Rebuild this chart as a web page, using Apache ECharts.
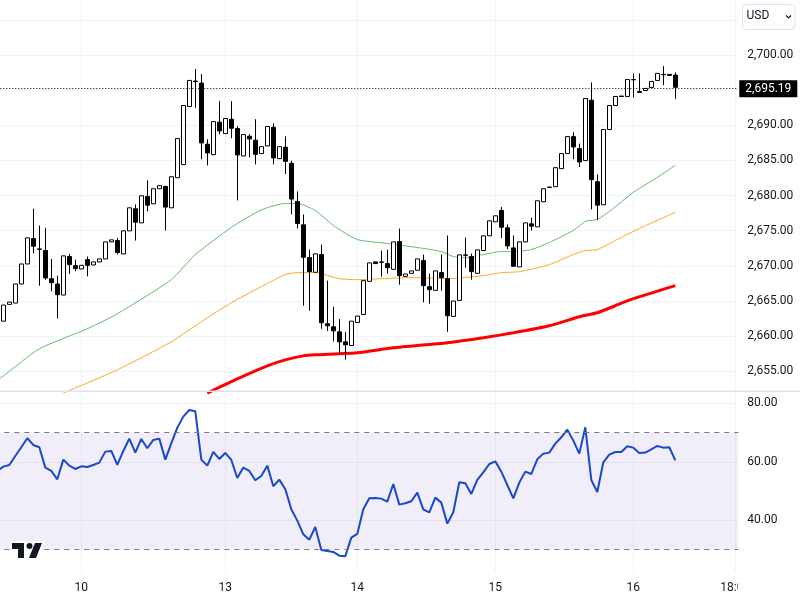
<!DOCTYPE html>
<html>
<head>
<meta charset="utf-8">
<script src="https://cdn.jsdelivr.net/npm/echarts@6/dist/echarts.min.js"></script>
<style>
    html, body { margin: 0; padding: 0; background: #fff; }
    #main { width: 800px; height: 600px; }
</style>
</head>
<body>
<div id="main"></div>
<script>
// bar index of each date label, counted from the first full candle
var tickIndex = [13, 37, 59, 82, 105, 122];
var tickLabels = ['10', '13', '14', '15', '16', '18:00'];
var barCount = 123;

var opens = [2661.93, 2664.31, 2664.50, 2667.21, 2670.06,
    2673.68, 2672.20, 2671.97, 2667.97, 2667.21,
    2665.64, 2671.11, 2669.83, 2669.35, 2670.68,
    2669.92, 2670.35, 2670.78, 2673.20, 2673.39,
    2671.49, 2674.77, 2677.91, 2675.91, 2679.67,
    2678.62, 2680.76, 2681.10, 2678.05, 2682.33,
    2684.19, 2692.46, 2696.07, 2695.79, 2687.09,
    2685.61, 2690.23, 2688.61, 2690.65, 2689.32,
    2685.42, 2688.23, 2687.66, 2685.76, 2686.85,
    2689.51, 2685.04, 2686.66, 2684.38, 2678.96,
    2675.63, 2670.97, 2668.88, 2671.40, 2661.55,
    2661.12, 2660.41, 2658.98, 2658.46, 2661.74,
    2662.88, 2667.59, 2670.35, 2670.35, 2670.11,
    2669.30, 2673.25, 2668.30, 2668.73, 2669.16,
    2670.54, 2666.83, 2666.31, 2668.83, 2667.97,
    2662.60, 2664.88, 2671.35, 2671.11, 2668.73,
    2671.97, 2674.06, 2676.06, 2677.67, 2675.20,
    2672.35, 2669.64, 2673.20, 2675.77, 2675.34,
    2678.91, 2681.00, 2681.05, 2683.62, 2685.76,
    2688.18, 2686.47, 2684.76, 2693.36, 2681.76,
    2678.48, 2689.18, 2692.60, 2693.94, 2693.89,
    2696.30, 2694.60, 2694.74, 2695.17, 2696.17,
    2697.03, 2697.03, 2696.93];

var closes = [2664.22, 2664.64, 2667.21, 2670.06, 2673.77,
    2672.58, 2672.15, 2668.07, 2667.40, 2665.69,
    2671.21, 2669.97, 2669.40, 2669.87, 2669.87,
    2670.35, 2670.78, 2673.20, 2673.49, 2671.68,
    2674.77, 2678.05, 2676.01, 2679.76, 2678.43,
    2680.76, 2681.19, 2678.15, 2682.47, 2687.90,
    2692.60, 2696.17, 2696.02, 2687.28, 2685.85,
    2690.32, 2688.99, 2690.75, 2689.37, 2685.57,
    2688.47, 2687.85, 2685.66, 2686.75, 2689.61,
    2685.14, 2686.75, 2684.66, 2679.29, 2675.82,
    2671.01, 2668.97, 2671.49, 2661.70, 2661.27,
    2660.55, 2658.98, 2658.56, 2661.93, 2662.65,
    2667.69, 2670.21, 2670.11, 2670.30, 2669.54,
    2673.20, 2668.40, 2668.64, 2669.07, 2670.78,
    2666.97, 2666.40, 2669.07, 2668.11, 2662.69,
    2664.79, 2671.35, 2671.30, 2668.97, 2672.06,
    2674.06, 2676.20, 2676.91, 2675.29, 2672.63,
    2669.73, 2673.20, 2675.91, 2675.44, 2679.05,
    2680.76, 2680.95, 2683.76, 2685.76, 2688.18,
    2686.71, 2684.57, 2693.60, 2682.05, 2678.43,
    2689.18, 2692.60, 2693.89, 2693.89, 2696.31,
    2696.25, 2694.46, 2695.03, 2696.03, 2697.17,
    2696.98, 2696.88, 2695.19];

var lows = [2661.93, 2664.31, 2664.50, 2667.21, 2670.06,
    2671.59, 2666.97, 2667.83, 2666.17, 2662.31,
    2665.64, 2668.64, 2669.02, 2669.35, 2668.31,
    2669.92, 2670.35, 2670.78, 2673.20, 2671.44,
    2671.49, 2674.77, 2673.39, 2675.91, 2677.53,
    2678.62, 2680.76, 2674.82, 2678.05, 2682.33,
    2684.19, 2692.46, 2692.27, 2684.95, 2684.09,
    2685.61, 2688.51, 2688.61, 2687.94, 2679.10,
    2685.42, 2685.23, 2684.23, 2685.76, 2686.85,
    2684.23, 2685.04, 2682.85, 2677.10, 2675.10,
    2664.12, 2663.41, 2668.88, 2660.84, 2660.55,
    2659.03, 2657.23, 2656.46, 2658.46, 2661.74,
    2662.88, 2667.59, 2670.11, 2668.26, 2668.69,
    2669.30, 2667.12, 2668.30, 2668.73, 2669.16,
    2664.60, 2664.41, 2666.31, 2666.26, 2660.41,
    2662.60, 2664.88, 2669.54, 2667.83, 2668.73,
    2671.97, 2674.06, 2676.06, 2673.73, 2672.16,
    2669.73, 2669.64, 2673.20, 2674.82, 2675.34,
    2678.91, 2680.95, 2681.05, 2683.62, 2685.76,
    2684.95, 2683.85, 2684.76, 2677.82, 2676.34,
    2678.48, 2689.18, 2692.60, 2693.89, 2693.89,
    2693.74, 2694.46, 2694.74, 2695.17, 2696.17,
    2695.50, 2696.88, 2693.55];

var highs = [2664.22, 2664.64, 2667.21, 2670.06, 2673.77,
    2677.91, 2675.53, 2675.20, 2670.78, 2668.40,
    2671.21, 2671.49, 2670.68, 2669.87, 2671.11,
    2670.35, 2670.78, 2673.20, 2673.49, 2673.77,
    2674.77, 2678.05, 2678.53, 2679.76, 2681.95,
    2680.76, 2681.19, 2681.10, 2682.47, 2687.90,
    2692.60, 2696.17, 2697.79, 2697.07, 2687.80,
    2690.32, 2693.22, 2690.75, 2693.22, 2689.66,
    2688.47, 2688.51, 2690.65, 2686.75, 2689.61,
    2690.08, 2686.75, 2688.23, 2684.76, 2680.38,
    2677.10, 2672.11, 2671.49, 2672.82, 2667.69,
    2663.98, 2662.22, 2660.41, 2661.93, 2662.65,
    2667.69, 2670.21, 2670.35, 2671.97, 2672.11,
    2673.20, 2675.10, 2668.64, 2669.07, 2670.78,
    2671.40, 2668.69, 2669.07, 2671.40, 2674.11,
    2664.79, 2671.35, 2673.82, 2671.54, 2672.06,
    2674.06, 2676.20, 2676.91, 2678.15, 2675.68,
    2674.11, 2673.20, 2675.91, 2676.63, 2679.05,
    2680.76, 2681.00, 2683.76, 2685.76, 2688.18,
    2688.80, 2687.18, 2693.60, 2695.88, 2682.81,
    2689.18, 2692.60, 2693.89, 2693.94, 2696.31,
    2697.17, 2697.17, 2695.03, 2696.03, 2697.17,
    2698.21, 2697.03, 2697.31];

// moving averages, read at the bends: [bar index, price]
var maGreen = [[-1, 2653.60], [0, 2654.14], [6, 2657.99], [14, 2660.84], [19, 2662.98], [28, 2667.83], [32, 2671.40],
    [38, 2675.25], [43, 2677.75], [47, 2678.67], [49, 2678.67], [52, 2677.67], [55, 2675.54],
    [59, 2673.54], [64, 2672.97], [69, 2672.40], [73, 2671.83], [75, 2671.11], [77, 2670.97],
    [80, 2671.40], [83, 2671.83], [85, 2671.83], [88, 2672.11], [91, 2673.11], [95, 2674.82],
    [97, 2676.11], [99, 2676.39], [101, 2677.53], [105, 2680.24], [109, 2682.38], [112, 2684.09]];
var maOrange = [[10, 2651.70], [19, 2655.00], [28, 2658.99], [33, 2661.84], [38, 2664.55], [43, 2666.83],
    [47, 2668.55], [49, 2668.83], [52, 2668.83], [56, 2667.97], [59, 2667.83], [63, 2667.97],
    [68, 2668.12], [74, 2667.97], [80, 2668.40], [83, 2668.83], [86, 2668.97], [91, 2669.97],
    [95, 2671.40], [97, 2671.97], [99, 2672.11], [102, 2673.40], [106, 2675.11], [112, 2677.39]];
var maRed = [[34, 2651.70], [39, 2653.71], [44, 2655.56], [47, 2656.42], [50, 2656.99], [52, 2657.13],
    [59, 2657.42], [65, 2658.13], [74, 2658.85], [80, 2659.56], [85, 2660.27], [91, 2661.27],
    [96, 2662.55], [99, 2663.12], [102, 2664.12], [105, 2665.12], [112, 2666.98]];

// first value belongs to the bar cut off by the left edge
var rsiValues = [56.90, 58.35, 58.92, 62.00, 64.96, 68.04, 65.76, 64.96, 58.01, 56.87, 54.02,
    60.74, 58.69, 57.55, 58.46, 58.24, 58.92, 59.72, 63.48, 63.71, 58.92,
    63.71, 67.92, 63.14, 67.81, 64.62, 67.47, 67.92, 60.74, 66.33, 71.68,
    75.44, 77.72, 77.27, 60.74, 58.69, 63.36, 60.97, 63.02, 60.63, 54.47,
    58.01, 56.87, 53.68, 55.16, 58.69, 51.63, 53.90, 50.60, 43.76, 39.89,
    35.22, 33.39, 37.72, 29.86, 29.52, 29.17, 27.92, 27.69, 34.08, 35.33,
    43.76, 47.52, 47.64, 47.41, 46.38, 52.42, 45.36, 45.81, 46.50, 49.46,
    43.76, 42.74, 47.75, 46.04, 38.86, 42.74, 52.99, 52.65, 49.00, 53.79,
    56.41, 59.26, 60.17, 56.64, 52.08, 47.52, 52.88, 56.64, 55.84, 60.86,
    62.79, 63.14, 66.21, 68.38, 71.00, 67.24, 62.79, 71.80, 53.79, 49.69,
    59.83, 62.45, 63.36, 63.36, 65.30, 64.84, 63.02, 63.14, 64.28, 65.41,
    64.84, 64.96, 60.51];

var lastPrice = 2695.19;
var shownPrices = [2655, 2660, 2665, 2670, 2675, 2680, 2685, 2690, 2700];
// readings above were taken against the label centres, gridlines sit a little lower
var readOffset = 0.2;

var fontName = 'Roboto';
var textColor = '#131722';
var gridColor = '#f0f3fa';

// one extra bar in front, so the lines run off the left edge
var categories = [''];
for (var i = 0; i < barCount; i++) {
    var k = tickIndex.indexOf(i);
    categories.push(k >= 0 ? tickLabels[k] : String(i));
}

var candles = ['-'];
for (var j = 0; j < opens.length; j++) {
    candles.push([opens[j] + readOffset, closes[j] + readOffset, lows[j] + readOffset, highs[j] + readOffset]);
}

function maPoints(list) {
    return list.map(function (p) {
        return [p[0] + 1, p[1] + readOffset];
    });
}

function isTick(index) {
    return tickIndex.indexOf(index - 1) >= 0;
}

function priceText(v) {
    var parts = v.toFixed(2).split('.');
    return parts[0].replace(/\B(?=(\d{3})+$)/, ',') + '.' + parts[1];
}

var myChart = echarts.init(document.getElementById('main'));

var option = {
    animation: false,
    backgroundColor: '#fff',
    grid: [
        { left: -5.7, width: 744, top: 0, height: 406.4, outerBoundsMode: 'none' },
        { left: -5.7, width: 744, top: 403.3, height: 175.5, outerBoundsMode: 'none' }
    ],
    xAxis: [
        {
            type: 'category', gridIndex: 0, data: categories,
            axisLine: { show: false }, axisTick: { show: false }, axisLabel: { show: false },
            splitLine: { show: true, interval: isTick, alignWithLabel: true, lineStyle: { color: gridColor, width: 1 } }
        },
        {
            type: 'category', gridIndex: 1, data: categories,
            axisLine: { show: false }, axisTick: { show: false },
            axisLabel: { interval: isTick, margin: 3, color: textColor, fontFamily: fontName, fontSize: 12 },
            splitLine: { show: true, interval: isTick, alignWithLabel: true, lineStyle: { color: gridColor, width: 1 } }
        }
    ],
    yAxis: [
        {
            type: 'value', gridIndex: 0, position: 'right', min: 2650, max: 2707.81, interval: 5,
            axisLine: { show: false }, axisTick: { show: false },
            axisLabel: {
                margin: 9, color: textColor, fontFamily: fontName, fontSize: 12, padding: [0, 0, 3, 0],
                formatter: function (v) { return shownPrices.indexOf(v) >= 0 ? priceText(v) : ''; }
            },
            splitLine: { show: true, showMinLine: false, showMaxLine: false, lineStyle: { color: gridColor, width: 1 } }
        },
        {
            type: 'value', gridIndex: 1, position: 'right', min: 20, max: 80, interval: 20,
            axisLine: { show: false }, axisTick: { show: false },
            axisLabel: {
                margin: 9, color: textColor, fontFamily: fontName, fontSize: 12, padding: [2, 0, 0, 0],
                formatter: function (v) { return v == 20 ? '' : v.toFixed(2); }
            },
            splitLine: { show: true, showMinLine: false, lineStyle: { color: gridColor, width: 1 } }
        }
    ],
    series: [
        {
            name: 'MA green', type: 'line', xAxisIndex: 0, yAxisIndex: 0, data: maPoints(maGreen), z: 2,
            showSymbol: false, smooth: 0.2, lineStyle: { color: '#66bb6a', width: 1 }
        },
        {
            name: 'MA orange', type: 'line', xAxisIndex: 0, yAxisIndex: 0, data: maPoints(maOrange), z: 2,
            showSymbol: false, smooth: 0.2, lineStyle: { color: '#ffa726', width: 1 }
        },
        {
            name: 'MA red', type: 'line', xAxisIndex: 0, yAxisIndex: 0, data: maPoints(maRed), z: 2,
            showSymbol: false, smooth: 0.2, lineStyle: { color: '#ff0000', width: 3 }
        },
        {
            name: 'Price', type: 'candlestick', xAxisIndex: 0, yAxisIndex: 0, data: candles, z: 3,
            barWidth: 5,
            itemStyle: { color: '#fff', color0: '#000', borderColor: '#000', borderColor0: '#000', borderWidth: 1 },
            markLine: {
                silent: true, symbol: 'none', animation: false,
                data: [{ yAxis: lastPrice }],
                lineStyle: { color: '#000', width: 1, type: [1, 2] },
                label: {
                    position: 'end', distance: 1, formatter: priceText(lastPrice),
                    color: '#fff', backgroundColor: '#000', padding: [3, 6, 2, 6],
                    fontFamily: fontName, fontSize: 12
                }
            }
        },
        {
            name: 'RSI', type: 'line', xAxisIndex: 1, yAxisIndex: 1, data: rsiValues, z: 3,
            showSymbol: false, lineStyle: { color: '#1848cc', width: 2 },
            markArea: {
                silent: true, itemStyle: { color: 'rgba(126,87,194,0.1)' },
                data: [[{ yAxis: 70 }, { yAxis: 30 }]]
            },
            markLine: {
                silent: true, symbol: 'none', animation: false,
                data: [{ yAxis: 70 }, { yAxis: 30 }],
                label: { show: false },
                lineStyle: { color: '#787b86', width: 1, type: [5, 5] }
            }
        }
    ],
    graphic: [
        // pane separator, bottom mask under the RSI pane, USD button and logo
        { type: 'rect', z: 50, shape: { x: 0, y: 390.5, width: 800, height: 1.5 }, style: { fill: '#e0e3eb' } },
        { type: 'rect', z: 50, shape: { x: 0, y: 572, width: 739, height: 7 }, style: { fill: '#fff' } },
        { type: 'rect', z: 50, shape: { x: 738, y: 572, width: 62, height: 28 }, style: { fill: '#fff' } },
        {
            type: 'rect', z: 50, shape: { x: 742.5, y: 4.5, width: 52.5, height: 25, r: 4 },
            style: { fill: '#fff', stroke: '#e0e3eb', lineWidth: 1 }
        },
        {
            type: 'text', z: 51, x: 746.5, y: 10,
            style: { text: 'USD', fill: textColor, fontFamily: fontName, fontSize: 12 }
        },
        {
            type: 'polyline', z: 51, shape: { points: [[786, 15.5], [788.5, 18], [791, 15.5]] },
            style: { fill: 'none', stroke: textColor, lineWidth: 1.2 }
        },
        {
            type: 'polygon', z: 52, x: 10, y: 541,
            shape: { points: [[0, 0], [16, 0], [16, 1], [23, 1], [24, 0], [35, 0], [27.5, 19], [6, 19], [6, 10], [0, 10]] },
            style: { fill: '#fff' }
        },
        {
            type: 'polygon', z: 53, x: 10, y: 541,
            shape: { points: [[2, 2], [14, 2], [14, 17], [8, 17], [8, 8], [2, 8]] },
            style: { fill: textColor }
        },
        {
            type: 'polygon', z: 53, x: 10, y: 541,
            shape: { points: [[25, 2], [32, 2], [26, 17], [19, 17]] },
            style: { fill: textColor }
        },
        { type: 'circle', z: 53, x: 10, y: 541, shape: { cx: 19.5, cy: 5, r: 3 }, style: { fill: textColor } }
    ]
};

myChart.setOption(option);
</script>
</body>
</html>
